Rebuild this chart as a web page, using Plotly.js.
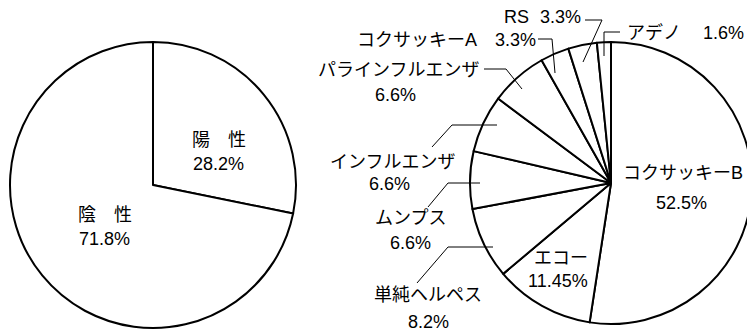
<!DOCTYPE html>
<html><head><meta charset="utf-8">
<script src="https://cdn.plot.ly/plotly-3.0.1.min.js"></script>
<style>
html,body{margin:0;padding:0;overflow:hidden;background:#fff;}
#chart{width:760px;height:332px;}
</style></head>
<body><div id="chart"></div>
<script>
// ---- data ----
const leftLabels = ['陽　性', '陰　性'];
const leftValues = [28.2, 71.8];
const rightLabels = ['コクサッキーB', 'エコー', '単純ヘルペス', 'ムンプス', 'インフルエンザ', 'パラインフルエンザ', 'コクサッキーA', 'RS', 'アデノ'];
const rightValues = [52.5, 11.45, 8.2, 6.6, 6.6, 6.6, 3.3, 3.3, 1.6];

// ---- layout helpers (pixel frame 760 x 332) ----
const W = 760, H = 332;
function dom(cx, cy, r) {
  return {x: [(cx - r) / W, (cx + r) / W], y: [(H - cy - r) / H, (H - cy + r) / H]};
}
const font = {family: 'Liberation Sans, Arial, "Noto Sans CJK JP", sans-serif', size: 18, color: '#000'};
const pct = v => v + '%';

const pieBase = {
  type: 'pie', sort: false, direction: 'clockwise', rotation: 0,
  textinfo: 'none', hoverinfo: 'skip', showlegend: false
};
const traces = [
  Object.assign({}, pieBase, {labels: leftLabels, values: leftValues, domain: dom(153, 185, 143),
    marker: {colors: leftLabels.map(() => '#fff'), line: {color: '#000', width: 2}}}),
  Object.assign({}, pieBase, {labels: rightLabels, values: rightValues, domain: dom(611, 183, 141),
    marker: {colors: rightLabels.map(() => '#fff'), line: {color: '#000', width: 2}}})
];

// label placements
const ann = [];
function A(text, x, y, anchor) {
  ann.push({text: text, x: x, y: y, xref: 'x', yref: 'y', xanchor: anchor || 'center', yanchor: 'middle',
    showarrow: false, font: font});
}
// left pie
A(leftLabels[0], 219, 140); A(pct(leftValues[0]), 218, 164);
A(leftLabels[1], 105, 215); A(pct(leftValues[1]), 104, 239);
// right pie
A(rightLabels[0], 683, 173); A(pct(rightValues[0]), 681, 203);
A(rightLabels[1], 561, 258); A(pct(rightValues[1]), 558, 281);
A(rightLabels[2], 428, 295); A(pct(rightValues[2]), 428, 322);
A(rightLabels[3], 410, 218); A(pct(rightValues[3]), 410, 243);
A(rightLabels[4], 392, 162); A(pct(rightValues[4]), 389, 184);
A(rightLabels[5], 398, 70);  A(pct(rightValues[5]), 395, 95);
A(rightLabels[6], 355, 40, 'left'); A(pct(rightValues[6]), 538, 40, 'right');
A(rightLabels[7], 502, 17, 'left'); A(pct(rightValues[7]), 583, 17, 'right');
A(rightLabels[8], 625, 33, 'left'); A(pct(rightValues[8]), 746, 33, 'right');

// leader lines
const leaders = [
  'M585,20 L602,20 L583,62',
  'M620,32 L604,32 L604,56',
  'M538,39 L552,39 L555,73',
  'M484,69 L506,69 L522,89',
  'M432,147 L452,125 L497,125',
  'M428,207 L448,183 L480,183',
  'M417,283 L448,247 L493,247'
];
const shapes = leaders.map(p => ({type: 'path', path: p, xref: 'x', yref: 'y', layer: 'above',
  line: {color: '#000', width: 1}}));

const layout = {
  width: W, height: H, margin: {l: 0, r: 0, t: 0, b: 0},
  paper_bgcolor: '#fff', plot_bgcolor: 'rgba(0,0,0,0)',
  xaxis: {range: [0, W], visible: false, fixedrange: true, domain: [0, 1]},
  yaxis: {range: [H, 0], visible: false, fixedrange: true, domain: [0, 1]},
  annotations: ann, shapes: shapes, showlegend: false
};
Plotly.newPlot('chart', traces, layout, {staticPlot: true, displayModeBar: false});
</script></body></html>
